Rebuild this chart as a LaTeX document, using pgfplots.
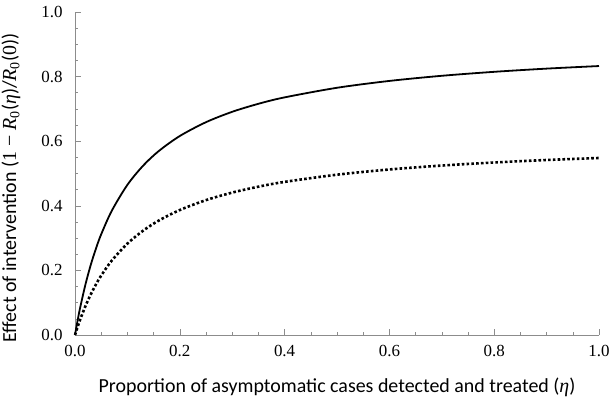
\documentclass[border=0pt]{standalone}
\usepackage{pgfplots}
\pgfplotsset{compat=1.18}
\usepackage{fontspec}
\setmainfont{Carlito}
\newfontfamily\tickfont{Liberation Serif}
\newcommand{\mR}{{\tickfont\itshape R}\textsubscript{\tickfont 0}}
\begin{document}
\begin{tikzpicture}
\path[use as bounding box] (-75bp,-64bp) rectangle (535bp,335bp);
\begin{axis}[
  at={(0,0)}, anchor=origin,
  scale only axis, width=524bp, height=323bp,
  xmin=0, xmax=1, ymin=0, ymax=1,
  axis x line=bottom, axis y line=left,
  axis line style={-, draw=black!45, line width=0.6pt},
  xtick={0,0.2,...,1}, ytick={0,0.2,...,1},
  minor x tick num=3, minor y tick num=3,
  tick align=inside,
  major tick length=6bp, minor tick length=3.5bp,
  tick style={draw=black!45, line width=0.5pt},
  xticklabel style={font=\tickfont\fontsize{17}{17}\selectfont, yshift=-7bp},
  yticklabel style={font=\tickfont\fontsize{17}{17}\selectfont, xshift=-9bp},
  /pgf/number format/assume math mode=true,
  /pgf/number format/fixed, /pgf/number format/fixed zerofill, /pgf/number format/precision=1,
  xlabel={Proportion of asymptomatic cases detected and treated ({\tickfont\itshape η})},
  ylabel={Effect of intervention ({\tickfont 1 − }\mR({\tickfont\itshape η})/\mR({\tickfont 0}))},
  label style={font=\fontsize{20}{20}\selectfont},
  xlabel style={at={(axis description cs:0.5,0)}, anchor=base, yshift=-57bp},
  ylabel style={at={(axis description cs:0,0.455)}, anchor=center, rotate=0, yshift=64bp},
  clip=false,
]
\addplot[black, line width=1.8bp, smooth] coordinates {
(0,0) (0.005,0.0450) (0.01,0.0858) (0.02,0.1569) (0.03,0.2167) (0.04,0.2677)
(0.05,0.3118) (0.07,0.3841) (0.1,0.4649) (0.13,0.5242) (0.16,0.5697) (0.2,0.6161)
(0.25,0.6589) (0.3,0.6910) (0.35,0.7158) (0.4,0.7357) (0.5,0.7654) (0.6,0.7866)
(0.7,0.8025) (0.8,0.8148) (0.9,0.8247) (1.0,0.8327)};
\addplot[black, line width=2.6bp, smooth, dash pattern=on 2.6bp off 2.2bp] coordinates {
(0,0) (0.005,0.0252) (0.01,0.0485) (0.02,0.0898) (0.03,0.1255) (0.04,0.1566)
(0.05,0.1840) (0.07,0.2300) (0.1,0.2829) (0.13,0.3230) (0.16,0.3544) (0.2,0.3869)
(0.25,0.4176) (0.3,0.4409) (0.35,0.4592) (0.4,0.4740) (0.5,0.4963) (0.6,0.5125)
(0.7,0.5246) (0.8,0.5341) (0.9,0.5418) (1.0,0.5480)};
\end{axis}
\end{tikzpicture}
\end{document}
